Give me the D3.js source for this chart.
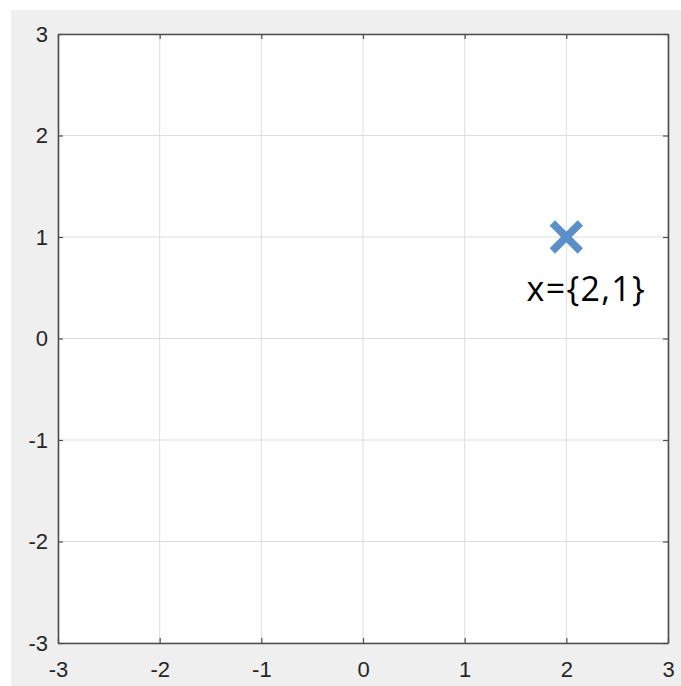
<!DOCTYPE html>
<html><head><meta charset="utf-8">
<script src="https://cdn.jsdelivr.net/npm/d3@7"></script>
<style>html,body{margin:0;padding:0;background:#fff;}
.tk text{font-family:'Liberation Sans', Arial, Helvetica, sans-serif; font-size:22px; fill:#262626;}
</style>
</head><body>
<svg id="c" width="681" height="686"></svg>
<script>
const xTicks = [-3,-2,-1,0,1,2,3];
const yTicks = [-3,-2,-1,0,1,2,3];
const pointsX = [2];
const pointsY = [1];
const pointLabels = ["x={2,1}"];

const svg = d3.select("#c");
svg.append("rect").attr("x",11).attr("y",10).attr("width",670).attr("height",676).attr("fill","#efefef");

const L=58, R=668, T=34, B=643;
const x = d3.scaleLinear().domain([-3,3]).range([L,R]);
const y = d3.scaleLinear().domain([-3,3]).range([B,T]);

svg.append("rect").attr("x",L).attr("y",T).attr("width",R-L).attr("height",B-T).attr("fill","#fff");

// grid
const g = svg.append("g");
g.selectAll(".gx").data(xTicks).join("line").attr("x1",d=>x(d)).attr("x2",d=>x(d)).attr("y1",T).attr("y2",B).attr("stroke","#dedede").attr("stroke-width",1);
g.selectAll(".gy").data(yTicks).join("line").attr("y1",d=>y(d)).attr("y2",d=>y(d)).attr("x1",L).attr("x2",R).attr("stroke","#dedede").attr("stroke-width",1);

const fmt = d => String(d);
// axes
const axB = d3.axisBottom(x).tickValues(xTicks).tickFormat(fmt).tickSizeInner(-5).tickSizeOuter(0).tickPadding(18);
const axL = d3.axisLeft(y).tickValues(yTicks).tickFormat(fmt).tickSizeInner(-5).tickSizeOuter(0).tickPadding(10);
const axT = d3.axisTop(x).tickValues(xTicks).tickSizeInner(-5).tickSizeOuter(0).tickFormat("");
const axR = d3.axisRight(y).tickValues(yTicks).tickSizeInner(-5).tickSizeOuter(0).tickFormat("");
function style(sel){
  sel.attr("class","tk").attr("font-size",null).attr("font-family",null);
  sel.selectAll("path").attr("stroke","#4d4d4d").attr("stroke-width",1.6);
  sel.selectAll("line").attr("stroke","#4d4d4d").attr("stroke-width",1.2);
}
svg.append("g").attr("transform",`translate(0,${B})`).call(axB).call(style);
svg.append("g").attr("transform",`translate(${L},0)`).call(axL).call(style);
svg.append("g").attr("transform",`translate(0,${T})`).call(axT).call(style);
svg.append("g").attr("transform",`translate(${R},0)`).call(axR).call(style);

// marker
const s = 14;
const pts = svg.append("g");
pointsX.forEach((px,i)=>{
  const cx=x(px), cy=y(pointsY[i]);
  pts.append("path").attr("d",`M${cx-s},${cy-s}L${cx+s},${cy+s}M${cx-s},${cy+s}L${cx+s},${cy-s}`)
    .attr("stroke","#5b8fc8").attr("stroke-width",7.5).attr("fill","none");
  pts.append("text").attr("x",cx+20).attr("y",cy+64).attr("text-anchor","middle")
    .attr("font-family","'Open Sans', 'Liberation Sans', sans-serif").attr("font-size","34px")
    .attr("letter-spacing","1.3px").attr("fill","#000")
    .text(pointLabels[i]);
});
</script>
</body></html>
